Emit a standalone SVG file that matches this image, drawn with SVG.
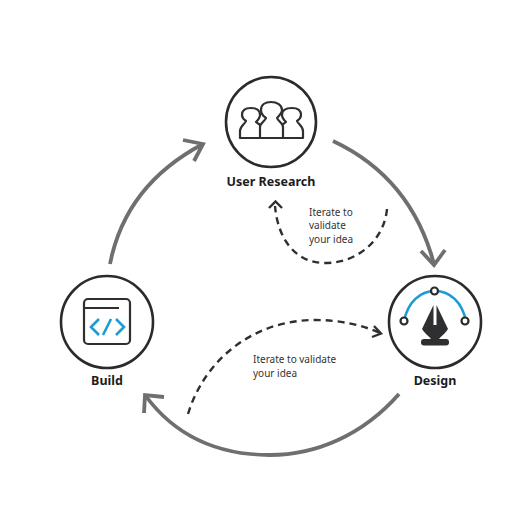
<svg xmlns="http://www.w3.org/2000/svg" width="508" height="507" viewBox="0 0 508 507">
<style>
text{font-family:"Noto Sans","Open Sans",sans-serif;fill:#222}
.lbl{font-size:12.5px;font-weight:700;text-anchor:middle;fill:#1c1c1e}
.note{font-size:10px;fill:#333}
.ring{fill:#fff;stroke:#2b2b2d;stroke-width:2.6}
.person{fill:#fff;stroke:#2f2f31;stroke-width:2.2;stroke-linejoin:round}
.line{fill:none;stroke:#2f2f31;stroke-width:2.2;stroke-linejoin:round}
.big{fill:none;stroke:#6f6f6f;stroke-width:3.8;stroke-linecap:butt}
.head{fill:none;stroke:#6f6f6f;stroke-width:3.8;stroke-linecap:butt;stroke-linejoin:miter}
.dash{fill:none;stroke:#2f2f31;stroke-width:2.4;stroke-dasharray:7 5}
.dhead{fill:none;stroke:#2f2f31;stroke-width:2.4}
.blue{fill:none;stroke:#1b9cd6;stroke-width:2.6}
.pt{fill:#fff;stroke:#2b2b2d;stroke-width:2.2}
</style>
<g id="connectors">
<path class="big" d="M110 264C120 213 150 172 203 144"/>
<path class="head" d="M183 140L203 144L194 161"/>
<path class="big" d="M333 141C382 164 418 204 434 264"/>
<path class="head" d="M421 251L434 265L445 250"/>
<path class="big" d="M399 394C362 436 315 455 270 455C218 455 175 436 145 395"/>
<path class="head" d="M144 413L145 395L164 397"/>
<path class="dash" d="M387 209C384 240 358 263 325 263C296 263 278 240 275 206"/>
<path class="dhead" d="M269 208L275.500 201.500L282 208"/>
<path class="dash" d="M188 414C205 358 255 320 315 320C340 320 362 325 380 333"/>
<path class="dhead" d="M374 326L381 333.500L372 337"/>
</g>
<g id="user-research">
<circle class="ring" cx="271" cy="122" r="45"/>
<path class="person" d="M240 138V131C240 126 245 124 246 121C243 119 242 117 242 115C242 110 246 108 251 108C256 108 260 110 260 115C260 118 258 120 256 122C258 124 262 125 262 128V138Z"/>
<path class="person" d="M280 138V128C280 125 284 124 286 122C284 120 282 118 282 115C282 110 286 108 292 108C297 108 301 110 301 115C301 117 300 119 297 121C298 124 303 126 303 131V138Z"/>
<path class="person" d="M260 138V127C260 123 265 121 266 118C263 116 261 113 261 110C261 105 265 102 271 102C277 102 282 105 282 110C282 113 279 116 277 118C278 121 283 123 283 127V138Z"/>
<text class="lbl" x="271" y="186">User Research</text>
</g>
<g id="design">
<circle class="ring" cx="435" cy="322" r="46"/>
<path class="blue" d="M404 321C408 302 420 291 435 291C450 291 462 302 466 321"/>
<circle class="pt" cx="434.500" cy="291" r="3.500"/>
<circle class="pt" cx="404" cy="321" r="3.500"/>
<circle class="pt" cx="465" cy="321" r="3.500"/>
<path fill="#2f2f31" d="M433.500 305L422 329C424 333 429 336 431 339H439C441 336 446 333 448 329L436.500 305V325H433.500Z"/>
<rect x="421" y="339" width="28" height="6.500" rx="3" fill="#2f2f31"/>
<text class="lbl" x="435" y="385">Design</text>
</g>
<g id="build">
<circle class="ring" cx="107" cy="322" r="46"/>
<rect class="line" x="84" y="299" width="46" height="45" rx="4"/>
<path class="line" d="M84 308H119"/>
<path class="blue" d="M99 319L91 327L99 335M116 319L124 327L116 335M111 319L103 335"/>
<text class="lbl" x="107" y="385">Build</text>
</g>
<g id="notes">
<text class="note" x="309" y="216">Iterate to</text>
<text class="note" x="309" y="229">validate</text>
<text class="note" x="309" y="243">your idea</text>
<text class="note" x="253" y="363">Iterate to validate</text>
<text class="note" x="253" y="377">your idea</text>
</g>
</svg>
